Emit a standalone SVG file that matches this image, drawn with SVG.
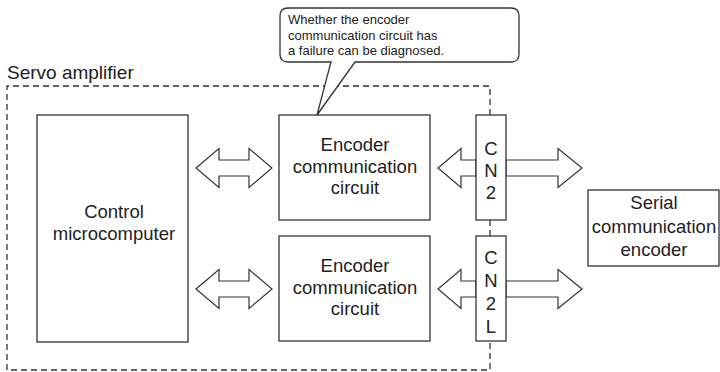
<svg xmlns="http://www.w3.org/2000/svg" width="720" height="372" viewBox="0 0 720 372">
<style>
.box{fill:#fff;stroke:#333;stroke-width:1.3}
.dash{fill:none;stroke:#333;stroke-width:1.3;stroke-dasharray:6 4}
.arr{fill:#fff;stroke:#333;stroke-width:1.2;stroke-linejoin:miter}
.t{font-family:"Liberation Sans",Arial,sans-serif;font-size:18.5px;fill:#222;text-anchor:middle}
.s{font-family:"Liberation Sans",Arial,sans-serif;font-size:13px;fill:#222}
</style>
<rect width="720" height="372" fill="#fff"/>
<g id="servo-amplifier">
<path class="dash" d="M490,115 V86 H7 V370 H490 V341 M490,220 V236"/>
<text class="t" x="7" y="79" style="text-anchor:start;font-size:19px">Servo amplifier</text>
</g>
<g id="control-microcomputer">
<rect class="box" x="37" y="115" width="151" height="227"/>
<text class="t" x="114" y="218">Control</text>
<text class="t" x="114" y="240">microcomputer</text>
</g>
<g id="encoder-circuit-1">
<rect class="box" x="279" y="115" width="151" height="105"/>
<text class="t" x="355" y="151">Encoder</text>
<text class="t" x="355" y="173">communication</text>
<text class="t" x="355" y="194">circuit</text>
</g>
<g id="encoder-circuit-2">
<rect class="box" x="279" y="236" width="151" height="105"/>
<text class="t" x="355" y="272">Encoder</text>
<text class="t" x="355" y="294">communication</text>
<text class="t" x="355" y="315">circuit</text>
</g>
<g id="connectors">
<polygon class="arr" points="196,168 219,148.5 219,160 249,160 249,148.5 272,168 249,187.5 249,176 219,176 219,187.5"/>
<polygon class="arr" points="196,289 219,269.5 219,281 249,281 249,269.5 272,289 249,308.5 249,297 219,297 219,308.5"/>
<polygon class="arr" points="476,160 461,160 461,148.5 438,168 461,187.5 461,176 476,176"/>
<polygon class="arr" points="506,160 558,160 558,148.5 582,168 558,187.5 558,176 506,176"/>
<polygon class="arr" points="476,281 461,281 461,269.5 438,289 461,308.5 461,297 476,297"/>
<polygon class="arr" points="506,281 558,281 558,269.5 582,289 558,308.5 558,297 506,297"/>
</g>
<g id="cn2">
<rect class="box" x="476" y="115" width="30" height="105"/>
<text class="t" x="491" y="155">C</text>
<text class="t" x="491" y="177">N</text>
<text class="t" x="491" y="199">2</text>
</g>
<g id="cn2l">
<rect class="box" x="476" y="236" width="30" height="105"/>
<text class="t" x="491" y="264">C</text>
<text class="t" x="491" y="287">N</text>
<text class="t" x="491" y="310">2</text>
<text class="t" x="491" y="333">L</text>
</g>
<g id="serial-encoder">
<rect class="box" x="588" y="190" width="131" height="76"/>
<text class="t" x="654" y="209">Serial</text>
<text class="t" x="654" y="233">communication</text>
<text class="t" x="654" y="256">encoder</text>
</g>
<g id="callout">
<path class="box" d="M288,8 H511 Q519,8 519,16 V54 Q519,62 511,62 H355 L317,115 L331,62 H288 Q280,62 280,54 V16 Q280,8 288,8 Z"/>
<text class="s" x="288" y="24">Whether the encoder</text>
<text class="s" x="288" y="39.5">communication circuit has</text>
<text class="s" x="288" y="55">a failure can be diagnosed.</text>
</g>
</svg>
